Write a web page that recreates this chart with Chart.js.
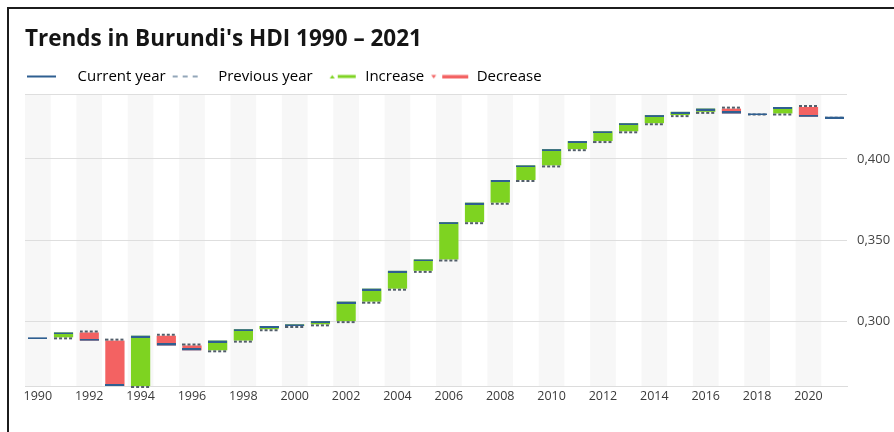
<!DOCTYPE html>
<html>
<head>
<meta charset="utf-8">
<script src="https://cdn.jsdelivr.net/npm/chart.js@4.4.1/dist/chart.umd.min.js"></script>
<style>
  html, body { margin: 0; padding: 0; background: #fff; overflow: hidden; }
  #frame { position: absolute; left: 7px; top: 7px; width: 1000px; height: 1000px; border: 2px solid #1c1c1c; }
  #wrap { position: absolute; left: 0; top: 0; width: 894px; height: 432px; }
</style>
</head>
<body>
<div id="frame"></div>
<div id="wrap"><canvas id="hdiChart"></canvas></div>
<script>
const years = [1990, 1991, 1992, 1993, 1994, 1995, 1996, 1997, 1998, 1999,
               2000, 2001, 2002, 2003, 2004, 2005, 2006, 2007, 2008, 2009,
               2010, 2011, 2012, 2013, 2014, 2015, 2016, 2017, 2018, 2019,
               2020, 2021];
const hdi = [0.290, 0.293, 0.288, 0.260, 0.291, 0.285, 0.282, 0.288, 0.295, 0.297,
             0.298, 0.300, 0.312, 0.320, 0.331, 0.338, 0.361, 0.373, 0.387, 0.396,
             0.406, 0.411, 0.417, 0.422, 0.427, 0.429, 0.431, 0.428, 0.428, 0.432,
             0.426, 0.426];
const yTicks = [0.30, 0.35, 0.40];
const yMin = 0.26;
const yMax = 0.44;

const GREEN = '#7ed321';
const RED = '#f36262';
const BLUE = '#2f5f91';
const DASH = '#525e6a';
const FONT = "'Open Sans', sans-serif";

// previous year value for each year, and the change bar between them
const prevYear = hdi.map((v, i) => i === 0 ? null : hdi[i - 1]);
const changes = hdi.map((v, i) => i === 0 ? null : [hdi[i - 1], v]);
const isUp = i => i > 0 && hdi[i] >= hdi[i - 1];

function mark(w, h, draw) {
    const c = document.createElement('canvas');
    c.width = w;
    c.height = h;
    draw(c.getContext('2d'));
    return c;
}

// bar-wide markers (19px = bar width)
const solidTop = mark(19, 4, g => { g.fillStyle = BLUE; g.fillRect(0, 2, 19, 2); });
const solidBottom = mark(19, 4, g => { g.fillStyle = BLUE; g.fillRect(0, 0, 19, 2); });
const dashes = row => mark(19, 6, g => {
    g.fillStyle = DASH;
    for (let x = 0; x < 19; x += 5) g.fillRect(x, row, 3, 2);
});
const dashBelow = dashes(3);
const dashAbove = dashes(1);

// legend markers
const BOX = 44;
const legCurrent = mark(BOX, 4, g => { g.fillStyle = BLUE; g.fillRect(1, 1, 29, 2); });
const legPrevious = mark(BOX, 4, g => {
    g.fillStyle = '#93a6b9';
    [6, 16, 26].forEach(x => g.fillRect(x, 1, 5, 2));
});
const legIncrease = mark(BOX, 8, g => {
    g.fillStyle = GREEN;
    g.beginPath(); g.moveTo(16, 6); g.lineTo(21, 6); g.lineTo(18.5, 2.5); g.fill();
    g.fillRect(24, 2.5, 18, 3);
});
const legDecrease = mark(BOX, 8, g => {
    g.fillStyle = RED;
    g.beginPath(); g.moveTo(6, 2.5); g.lineTo(11, 2.5); g.lineTo(8.5, 6); g.fill();
    g.fillRect(17, 2.5, 26, 3.5);
});

const columnBands = {
    id: 'columnBands',
    beforeDraw(chart) {
        const { ctx, chartArea: a, scales: { x } } = chart;
        const half = (x.getPixelForValue(1) - x.getPixelForValue(0)) / 2;
        ctx.save();
        ctx.fillStyle = '#f7f7f7';
        years.forEach((yr, i) => {
            if (i % 2) return;
            const cx = x.getPixelForValue(i);
            ctx.fillRect(cx - half, a.top, half * 2, a.bottom - a.top);
        });
        ctx.restore();
    }
};

const ctx = document.getElementById('hdiChart').getContext('2d');
new Chart(ctx, {
    data: {
        labels: years,
        datasets: [
            {
                type: 'line',
                label: 'Current year',
                data: hdi,
                showLine: false,
                pointRadius: 9,
                pointStyle: c => c.dataIndex === 0 || isUp(c.dataIndex) ? solidTop : solidBottom,
                clip: false,
                order: 0
            },
            {
                type: 'line',
                label: 'Previous year',
                data: prevYear,
                showLine: false,
                pointRadius: 9,
                pointStyle: c => isUp(c.dataIndex) ? dashBelow : dashAbove,
                clip: false,
                order: 1
            },
            {
                type: 'bar',
                label: 'Change',
                data: changes,
                backgroundColor: c => isUp(c.dataIndex) ? GREEN : RED,
                borderWidth: 0,
                barPercentage: 0.75,
                categoryPercentage: 1,
                order: 2
            }
        ]
    },
    options: {
        responsive: true,
        maintainAspectRatio: false,
        animation: false,
        events: [],
        layout: { padding: { top: 26, left: 25, right: 0, bottom: 25 } },
        plugins: {
            title: {
                display: true,
                text: "Trends in Burundi's HDI 1990 \u2013 2021",
                align: 'start',
                color: '#151515',
                font: { family: FONT, size: 22.5, weight: 'bold' },
                padding: { top: 0, bottom: 15 }
            },
            legend: {
                display: true,
                align: 'start',
                labels: {
                    usePointStyle: true,
                    pointStyleWidth: BOX,
                    padding: 1,
                    color: '#555',
                    font: { family: FONT, size: 15 },
                    generateLabels: () => [
                        { text: 'Current year', pointStyle: legCurrent },
                        { text: 'Previous year', pointStyle: legPrevious },
                        { text: 'Increase', pointStyle: legIncrease },
                        { text: 'Decrease', pointStyle: legDecrease }
                    ].map(it => ({ ...it, fillStyle: 'transparent', strokeStyle: 'transparent', lineWidth: 0, hidden: false }))
                }
            },
            tooltip: { enabled: false }
        },
        scales: {
            x: {
                grid: { display: false, drawTicks: false },
                border: { display: true, color: '#dcdcdc' },
                ticks: {
                    autoSkip: false,
                    maxRotation: 0,
                    padding: 3,
                    color: '#3a3a3a',
                    font: { family: FONT, size: 12.5 },
                    callback: (v, i) => i % 2 === 0 ? years[i] : ''
                }
            },
            y: {
                position: 'right',
                min: yMin,
                max: yMax,
                afterBuildTicks: axis => {
                    axis.ticks = [yMin, ...yTicks, yMax].map(v => ({ value: v }));
                },
                afterFit: axis => { axis.width = 47; },
                grid: { color: '#dedede', drawTicks: false },
                border: { display: false },
                ticks: {
                    padding: 10,
                    color: '#444',
                    font: { family: FONT, size: 13 },
                    callback: v => yTicks.some(t => Math.abs(t - v) < 1e-9) ? v.toFixed(3).replace('.', ',') : ''
                }
            }
        }
    },
    plugins: [columnBands]
});
</script>
</body>
</html>
